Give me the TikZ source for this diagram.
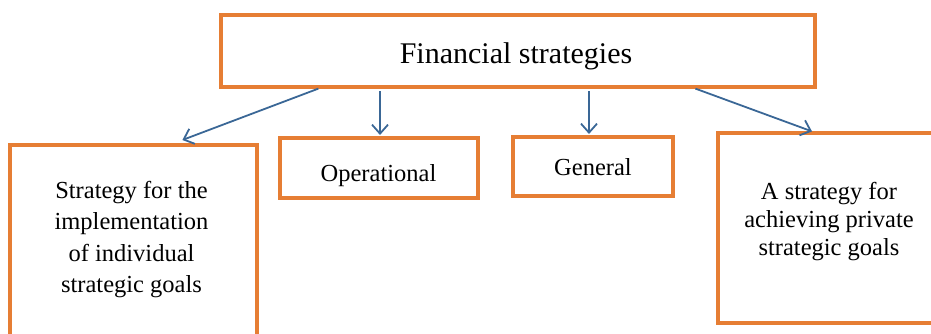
\documentclass[tikz,border=0pt]{standalone}
\usepackage{fontspec}
\setmainfont{Liberation Serif}
\usetikzlibrary{arrows.meta}
\definecolor{boxorange}{HTML}{E67E34}
\definecolor{arrowblue}{HTML}{3A6796}

\begin{document}
\begin{tikzpicture}[x=1pt, y=-1pt]
  \tikzstyle{fs_box}   = [shape = rectangle, draw = boxorange, line width=3.2pt, inner sep=0pt]
  \tikzstyle{fs_text}  = [align=center, inner sep=0pt, font=\fontsize{24.5pt}{31.5pt}\selectfont]
  \tikzstyle{fs_arrow} = [draw = arrowblue, line width=1.8pt, -{Straight Barb[length=9pt,width=16pt]}]

  \useasboundingbox (0,0) rectangle (931,333);
  \clip (0,0) rectangle (931,333);

  \node[fs_box, minimum width=594pt, minimum height=72pt] at (518, 51) (fin) {};
  \node[fs_text, anchor=base, font=\fontsize{30pt}{36pt}\selectfont] at (516, 63) (fin_text) {Financial strategies};

  \node[fs_box, minimum width=247pt, minimum height=195pt] at (133.5, 242.5) (indiv) {};
  \node[fs_text, anchor=north] at (131.5, 181) (indiv_text) {Strategy for the\\implementation\\of individual\\strategic goals};

  \node[fs_box, minimum width=198pt, minimum height=60pt] at (379, 168) (oper) {};
  \node[fs_text, anchor=base] at (378.5, 181) (oper_text) {Operational};

  \node[fs_box, minimum width=160pt, minimum height=59pt] at (593, 166.5) (gen) {};
  \node[fs_text, anchor=base] at (593, 175) (gen_text) {General};

  \node[fs_box, minimum width=227pt, minimum height=190pt] at (831.5, 228) (priv) {};
  \node[fs_text, anchor=north, font=\fontsize{24.5pt}{28pt}\selectfont] at (829, 182.5) (priv_text) {A strategy for\\achieving private\\strategic goals};

  \draw[fs_arrow, shorten >=9.6pt]
    ([xshift=99pt]fin.south west) -- ([xshift=165pt]indiv.north west);
  \draw[fs_arrow, shorten <=2.4pt, shorten >=1.4pt]
    ([xshift=1pt]oper.north |- fin.south) -- ([xshift=1pt]oper.north);
  \draw[fs_arrow, shorten <=2.4pt, shorten >=1.4pt]
    ([xshift=-4pt]gen.north |- fin.south) -- ([xshift=-4pt]gen.north);
  \draw[fs_arrow]
    ([xshift=476pt]fin.south west) -- ([xshift=95.6pt]priv.north west);

\end{tikzpicture}
\end{document}
